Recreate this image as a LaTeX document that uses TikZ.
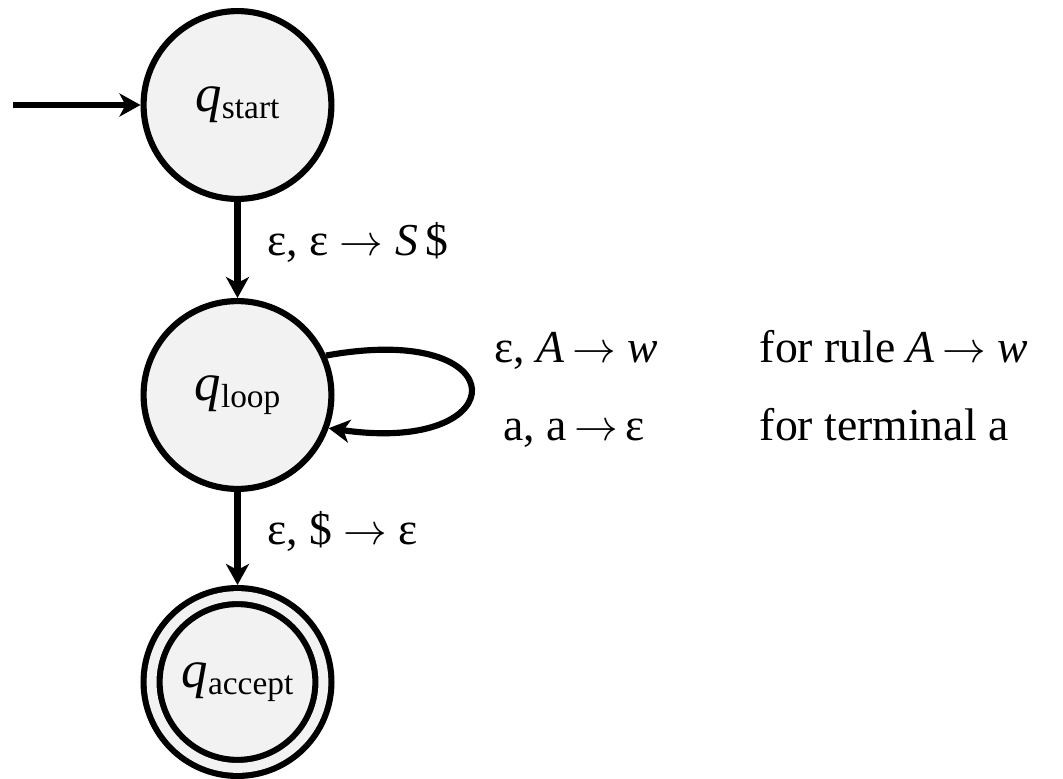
\documentclass[tikz,border=0pt]{standalone}
\usepackage{fontspec}
\setmainfont{Liberation Serif}
\usetikzlibrary{positioning,arrows.meta}
\newcommand{\qn}[1]{{\fontsize{30}{30}\selectfont\itshape q}\raisebox{-4pt}{\fontsize{19}{19}\selectfont #1}}
\tikzset{
  >={Stealth[length=0.42cm,width=0.46cm,inset=0.12cm]},
}

\begin{document}
\begin{tikzpicture}[
  ->,line width=3.5pt,
  st/.style={draw,circle,fill=black!5,minimum size=3.757cm,inner sep=0pt},
  acc/.style={st,minimum size=3.437cm,double=black!5,double distance=0.197cm,outer sep=0.222cm},
  lab/.style={font=\fontsize{26}{28}\selectfont,inner sep=1pt}
]
\useasboundingbox (0,0) rectangle (21.26,-15.58);

\node[st] (qs) at (4.75,-2.1) {\qn{start}};
\node[st] (ql) at (4.75,-7.9) {\qn{loop}};
\node[acc] (qa) at (4.75,-13.64) {\qn{accept}};

\coordinate (in) at (0.26,-2.1);

\draw (in) -- (qs);
\draw (qs) -- node[lab,right=0.5cm,yshift=0.15cm] (l1) {ε, ε $\to$ \textit{S}\,\$} (ql);
\draw (ql) -- node[lab,right=0.5cm,yshift=0.15cm] (l2) {ε, \$ $\to$ ε} (qa);
\draw (ql.24) .. controls +(3.86,0.7) and +(3.76,-0.54) .. (ql.-20);

\node[lab,anchor=base] (r1) at (11.52,-7.24) {ε, \textit{A}\,$\to$\ \textit{w}};
\node[lab,anchor=base] (r2) at (11.48,-8.8) {a, a\,$\to$\,ε};
\node[lab,anchor=base west] (n1) at (15.1,-7.24) {for rule \textit{A}\,$\to$\ \textit{w}};
\node[lab,anchor=base west] (n2) at (15.1,-8.8) {for terminal a};

\end{tikzpicture}
\end{document}
